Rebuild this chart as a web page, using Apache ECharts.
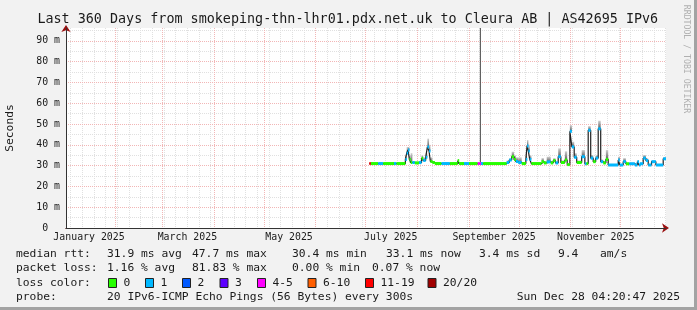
<!DOCTYPE html>
<html><head><meta charset="utf-8">
<script src="https://cdn.jsdelivr.net/npm/echarts@6/dist/echarts.min.js"></script>
<style>html,body{margin:0;padding:0;background:#f2f2f2;overflow:hidden}#c{width:697px;height:310px}</style>
</head><body><div id="c"></div>
<script>
// ---- data (days since 2025-01-01 00:00) ----
const sampleDays = [183.2,184.1,188.5,191.5,198.0,199.5,204.8,205.6,206.4,207.2,208.0,209.0,210.5,213.0,214.5,215.5,217.0,218.0,219.0,219.8,221.0,222.5,226.5,231.5,236.2,237.0,240.0,243.0,248.2,249.5,250.1,251.5,265.6,267.1,268.6,270.0,271.1,272.5,274.6,277.1,277.8,278.6,279.4,280.4,286.5,287.9,289.6,292.0,293.5,294.9,296.5,298.1,300.5,301.9,303.5,304.7,306.1,307.6,310.6,312.5,313.5,314.5,316.0,317.5,319.0,320.5,322.0,323.5,325.1,326.5,332.5,333.5,335.5,337.1,339.1,342.5,344.0,345.0,345.5,347.5,349.1,350.5,352.5,355.1,359.5];
const medianVals = [31,31,31,31,31,31,33,36,37.5,33,31.5,31.5,31.3,31.5,33.5,32.5,34,39,37,32,31.5,31,31,31,32.4,31,31,31,31,31,31,31,31.5,32.7,34.3,33,32,31.5,31,33,39.5,37,33,31,31.9,31.3,31.8,31.3,32.4,31.3,34.3,31.5,32.7,30.5,46.5,39,34,31.5,34.3,30.9,31,47,33.6,31.9,33.6,47.7,31.9,31.3,33,30.3,32.7,30.3,31.9,30.9,30.9,30.3,31.9,30.3,30.9,33.6,32.5,30.3,31.9,30.3,33.3];
const lossClass = [6,0,1,0,1,0,1,1,1,0,0,1,0,1,0,1,1,1,1,0,0,0,1,0,0,0,1,0,4,4,1,0,1,1,0,0,1,1,0,1,1,1,1,0,0,0,1,0,0,1,1,0,0,0,1,1,1,0,1,1,0,1,1,0,1,1,1,0,0,1,1,1,1,0,1,1,1,1,1,1,1,1,1,1,1];
const smokeHi = [31.5,31.5,31.5,31.5,31.5,31.5,35,39,39,35,36,32,32,32,35,34,36,43,40,34,32,31.5,31.5,31.5,33,31.5,31.5,31.5,31.5,97,31.5,31.5,32.5,33.5,36.7,35,34,34,31.5,36,42.3,40,35,31.5,33.6,32,34.3,32,33.6,32,38.3,32.5,36.9,31,49.5,41.5,36,32.5,37.5,31.5,31.5,49,35.1,33,35,51.6,33,32,37.5,30.8,34.3,30.8,33.6,31.5,31.5,30.8,32.5,30.8,31.5,35.1,33.5,30.8,32.5,30.8,34];
const startDay = 1.18, endDay = 361.18;
const lossLabels = ['0','1','2','3','4-5','6-10','11-19','20/20'];
const lossColors = ['#26ff00','#00b8ff','#0059ff','#5e00ff','#ff00ff','#ff5e00','#ff0000','#a10000'];
const monthStartDays = [31,59,90,120,151,181,212,243,273,304,334];
const monthLabelDays = [15,74,135,196,258,319];
const monthLabelText = ['January 2025','March 2025','May 2025','July 2025','September 2025','November 2025'];
const yMajorTicks = [0,10,20,30,40,50,60,70,80,90];
const yMinorTicks = [5,15,25,35,45,55,65,75,85,95];
const yMax = 96.2;
const weekDays = []; for (let d = 4; d <= 361; d += 7) weekDays.push(d);
const titleText = 'Last 360 Days from smokeping-thn-lhr01.pdx.net.uk to Cleura AB | AS42695 IPv6';
const medianStats = ['31.9 ms avg','47.7 ms max','30.4 ms min','33.1 ms now','3.4 ms sd','9.4','am/s'];
const lossStats = ['1.16 % avg','81.83 % max','0.00 % min','0.07 % now'];
const probeText = '20 IPv6-ICMP Echo Pings (56 Bytes) every 300s';
const dateText = 'Sun Dec 28 04:20:47 2025';

// ---- build ----
const segs = sampleDays.map((d, i) => [d, i + 1 < sampleDays.length ? sampleDays[i + 1] : endDay, medianVals[i], lossClass[i], smokeHi[i]]);
const stepLine = sampleDays.map((d, i) => [d, medianVals[i]]);
stepLine.push([endDay, medianVals[medianVals.length - 1]]);

const FONT = 'DejaVu Sans Mono';
const TXT = '#1a1a1a';
const chart = echarts.init(document.getElementById('c'), null, {renderer: 'canvas'});

function txt(x, y, s, size, extra) {
  return {type: 'text', x: x, y: y, style: Object.assign({text: s, font: size + 'px "' + FONT + '"', fill: TXT, textAlign: 'left', textVerticalAlign: 'middle'}, extra || {})};
}
const graphics = [];
graphics.push({type: 'rect', shape: {x: 694, y: 0, width: 3, height: 310}, style: {fill: '#a3a3a3'}});
graphics.push({type: 'rect', shape: {x: 0, y: 307, width: 697, height: 3}, style: {fill: '#a3a3a3'}});
graphics.push(txt(347.8, 20, titleText, 13.4, {textAlign: 'center'}));
graphics.push(Object.assign(txt(10, 128, 'Seconds', 11.3, {textAlign: 'center'}), {rotation: Math.PI / 2}));
graphics.push(Object.assign(txt(686, 59, 'RRDTOOL / TOBI OETIKER', 8.2, {textAlign: 'center', fill: '#b0b0b0'}), {rotation: -Math.PI / 2}));
const L1 = 254, L2 = 268.5, L3 = 283, L4 = 297.5;
graphics.push(txt(16, L1, 'median rtt:', 11.3));
const mX = [107, 192, 292, 386, 479, 558, 600];
medianStats.forEach((s, i) => graphics.push(txt(mX[i], L1, s, 11.3)));
graphics.push(txt(16, L2, 'packet loss:', 11.3));
const lX = [107, 192, 292, 372];
lossStats.forEach((s, i) => graphics.push(txt(lX[i], L2, s, 11.3)));
graphics.push(txt(16, L3, 'loss color:', 11.3));
const bX = [108, 145, 182, 219.5, 257, 307.5, 365, 427.5];
lossLabels.forEach((s, i) => {
  graphics.push({type: 'rect', shape: {x: bX[i] + 0.5, y: L3 - 4.5, width: 8, height: 9}, style: {fill: lossColors[i], stroke: '#222', lineWidth: 1}});
  graphics.push(txt(bX[i] + 15.5, L3, s, 11.3));
});
graphics.push(txt(16, L4, 'probe:', 11.3));
graphics.push(txt(107, L4, probeText, 11.3));
graphics.push(txt(680, L4, dateText, 11.3, {textAlign: 'right'}));

const gridDot = [1, 1];
const minorCol = '#e0e0e0', majorCol = '#f2b6b6';
const option = {
  backgroundColor: '#f2f2f2',
  animation: false,
  grid: {left: 66, top: 28, width: 600, height: 200, show: true, backgroundColor: '#ffffff', borderWidth: 0},
  xAxis: [
    {type: 'value', min: startDay, max: endDay, position: 'bottom', z: 3,
     axisLine: {show: true, lineStyle: {color: '#333', width: 1}},
     axisTick: {show: false},
     axisLabel: {show: true, customValues: monthLabelDays, margin: 4, color: TXT, fontFamily: FONT, fontSize: 9.9,
       formatter: v => monthLabelText[monthLabelDays.indexOf(v)] || ''},
     splitLine: {show: false}},
    {type: 'value', min: startDay, max: endDay, position: 'bottom', z: 0,
     axisLine: {show: false}, axisLabel: {show: false},
     axisTick: {show: false, customValues: weekDays},
     splitLine: {show: true, lineStyle: {color: minorCol, type: gridDot, width: 1}}},
    {type: 'value', min: startDay, max: endDay, position: 'bottom', z: 1,
     axisLine: {show: true, symbol: ['none', 'arrow'], symbolSize: [7, 7], symbolOffset: [0, 3], lineStyle: {color: '#9a1010', width: 1}},
     axisLabel: {show: false},
     axisTick: {show: false, customValues: monthStartDays},
     splitLine: {show: true, lineStyle: {color: majorCol, type: gridDot, width: 1}}}
  ],
  yAxis: [
    {type: 'value', min: 0, max: yMax, position: 'left', z: 3,
     axisLine: {show: true, lineStyle: {color: '#333', width: 1}},
     axisTick: {show: false},
     axisLabel: {show: true, customValues: yMajorTicks, margin: 6, color: TXT, fontFamily: FONT, fontSize: 9.9,
       formatter: v => v === 0 ? '0\u00a0\u00a0' : v + ' m'},
     splitLine: {show: false}},
    {type: 'value', min: 0, max: yMax, position: 'left', z: 0,
     axisLine: {show: false}, axisLabel: {show: false},
     axisTick: {show: false, customValues: yMinorTicks},
     splitLine: {show: true, lineStyle: {color: minorCol, type: gridDot, width: 1}}},
    {type: 'value', min: 0, max: yMax, position: 'left', z: 1,
     axisLine: {show: true, symbol: ['none', 'arrow'], symbolSize: [7, 7], symbolOffset: [0, 3], lineStyle: {color: '#9a1010', width: 1}},
     axisLabel: {show: false},
     axisTick: {show: false, customValues: yMajorTicks.slice(1)},
     splitLine: {show: true, lineStyle: {color: majorCol, type: gridDot, width: 1}}}
  ],
  series: [
    {type: 'custom', name: 'smoke', xAxisIndex: 0, yAxisIndex: 0, clip: true, z: 2, silent: true,
     encode: {x: [0, 1], y: [2, 4]},
     data: segs,
     renderItem: (params, api) => {
       const x0 = api.coord([api.value(0), 0])[0];
       const x1 = api.coord([api.value(1), 0])[0];
       const yT = api.coord([0, api.value(4)])[1];
       const yB = api.coord([0, api.value(2)])[1];
       const tall = api.value(4) - api.value(2) > 30;
       return {type: 'rect', shape: {x: x0, y: yT, width: Math.max(x1 - x0, 1), height: Math.max(yB - yT, 0)},
         style: {fill: tall ? '#4a4a4a' : new echarts.graphic.LinearGradient(0, 0, 0, 1, [{offset: 0, color: '#cfcfcf'}, {offset: 1, color: '#5a5a5a'}])}};
     }},
    {type: 'line', name: 'median', xAxisIndex: 0, yAxisIndex: 0, z: 3, silent: true,
     data: stepLine, step: 'end', showSymbol: false, symbol: 'none',
     lineStyle: {color: '#202020', width: 1.2}},
    {type: 'custom', name: 'loss', xAxisIndex: 0, yAxisIndex: 0, clip: true, z: 4, silent: true,
     encode: {x: [0, 1], y: 2},
     data: segs,
     renderItem: (params, api) => {
       const x0 = api.coord([api.value(0), 0])[0];
       const x1 = api.coord([api.value(1), 0])[0];
       const y = api.coord([0, api.value(2)])[1];
       return {type: 'rect', shape: {x: x0, y: y - 1.5, width: Math.max(x1 - x0, 1.5), height: 3},
         style: {fill: lossColors[api.value(3)]}};
     }}
  ],
  graphic: graphics
};
chart.setOption(option);
</script></body></html>
